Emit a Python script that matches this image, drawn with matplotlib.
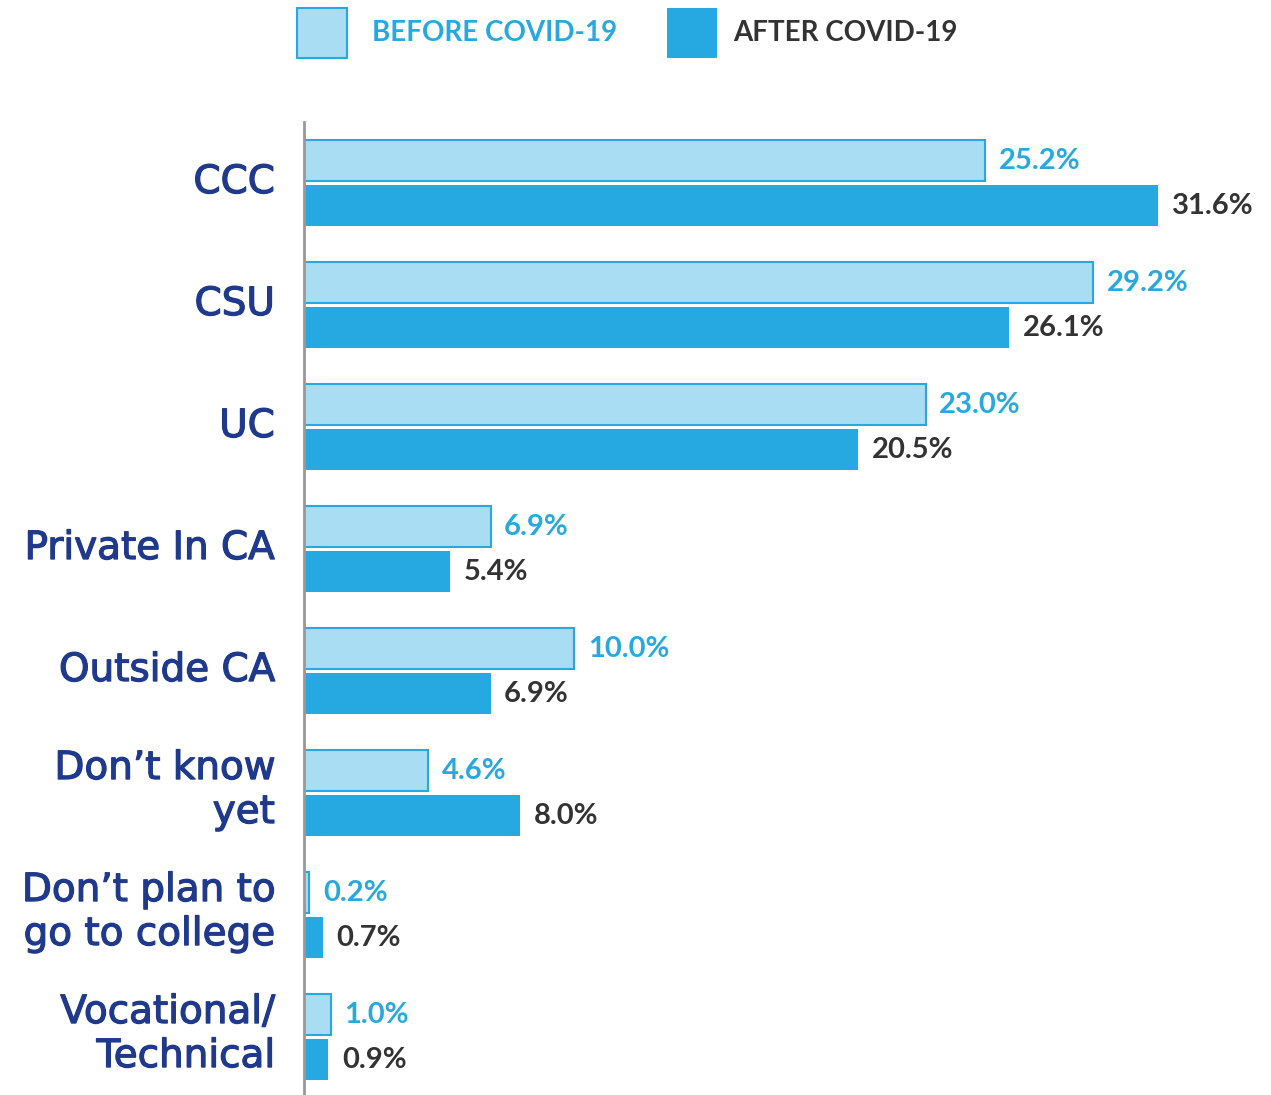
import matplotlib
matplotlib.use("Agg")
import matplotlib.pyplot as plt
from matplotlib.patches import Rectangle
from matplotlib.transforms import ScaledTranslation
import matplotlib.patheffects as pe
import numpy as np

categories = ["CCC", "CSU", "UC", "Private In CA", "Outside CA",
              "Don\u2019t know\nyet", "Don\u2019t plan to\ngo to college", "Vocational/\nTechnical"]
before = [25.2, 29.2, 23.0, 6.9, 10.0, 4.6, 0.2, 1.0]
after = [31.6, 26.1, 20.5, 5.4, 6.9, 8.0, 0.7, 0.9]
series_labels = ["BEFORE COVID-19", "AFTER COVID-19"]

LIGHT = "#A9DDF3"
EDGE = "#29A8E0"
DARK = "#26A8E0"
NAVY = "#1F3A8C"
GREY_TXT = "#333333"
FONT = "Lato"

W, H = 1271, 1095
fig = plt.figure(figsize=(W / 100, H / 100), dpi=100)
ax = fig.add_axes([304 / W, 0, (W - 304) / W, 973 / H])

y = np.arange(len(categories))
bh = 41 / 122
off = 22.5 / 122
ax.barh(y - off, before, height=bh, color=LIGHT, edgecolor=EDGE, linewidth=1.5)
ax.barh(y + off, after, height=bh, color=DARK, edgecolor=DARK, linewidth=0)

pad = 0.5
for i in range(len(categories)):
    ax.text(before[i] + pad, y[i] - off, f"{before[i]:.1f}%", va="center", ha="left",
            color=EDGE, fontsize=21, fontweight="bold", family=FONT)
    ax.text(after[i] + pad, y[i] + off, f"{after[i]:.1f}%", va="center", ha="left",
            color=GREY_TXT, fontsize=21, fontweight="bold", family=FONT)

ax.set_xlim(0, (W - 304) / 27.03)
ax.set_ylim(7.475, -0.5)
ax.set_yticks(y)
ax.set_yticklabels(categories, fontsize=28, color=NAVY, family="DejaVu Sans",
                   linespacing=1.2)
ax.tick_params(axis="y", length=0, pad=21)
for lab in ax.get_yticklabels():
    dy = 0.10 if "\n" in lab.get_text() else 0.05
    lab.set_transform(lab.get_transform() + ScaledTranslation(0, dy, fig.dpi_scale_trans))
    lab.set_path_effects([pe.Stroke(linewidth=0.9, foreground=NAVY), pe.Normal()])
ax.set_xticks([])
for s in ["top", "right", "bottom"]:
    ax.spines[s].set_visible(False)
ax.spines["left"].set_color("#999999")
ax.spines["left"].set_linewidth(2)

# legend
fig.add_artist(Rectangle((297 / W, 1 - 58 / H), 50 / W, 50 / H, transform=fig.transFigure,
                         facecolor=LIGHT, edgecolor=EDGE, linewidth=1.5))
fig.text(372 / W, 1 - 33 / H, series_labels[0], color=EDGE, fontsize=20, va="center",
         ha="left", family=FONT, fontweight="bold")
fig.add_artist(Rectangle((667 / W, 1 - 58 / H), 50 / W, 50 / H, transform=fig.transFigure,
                         facecolor=DARK, edgecolor=DARK, linewidth=0))
fig.text(733 / W, 1 - 33 / H, series_labels[1], color=GREY_TXT, fontsize=20, va="center",
         ha="left", family=FONT, fontweight="bold")

fig.savefig("out.png", dpi=100)
